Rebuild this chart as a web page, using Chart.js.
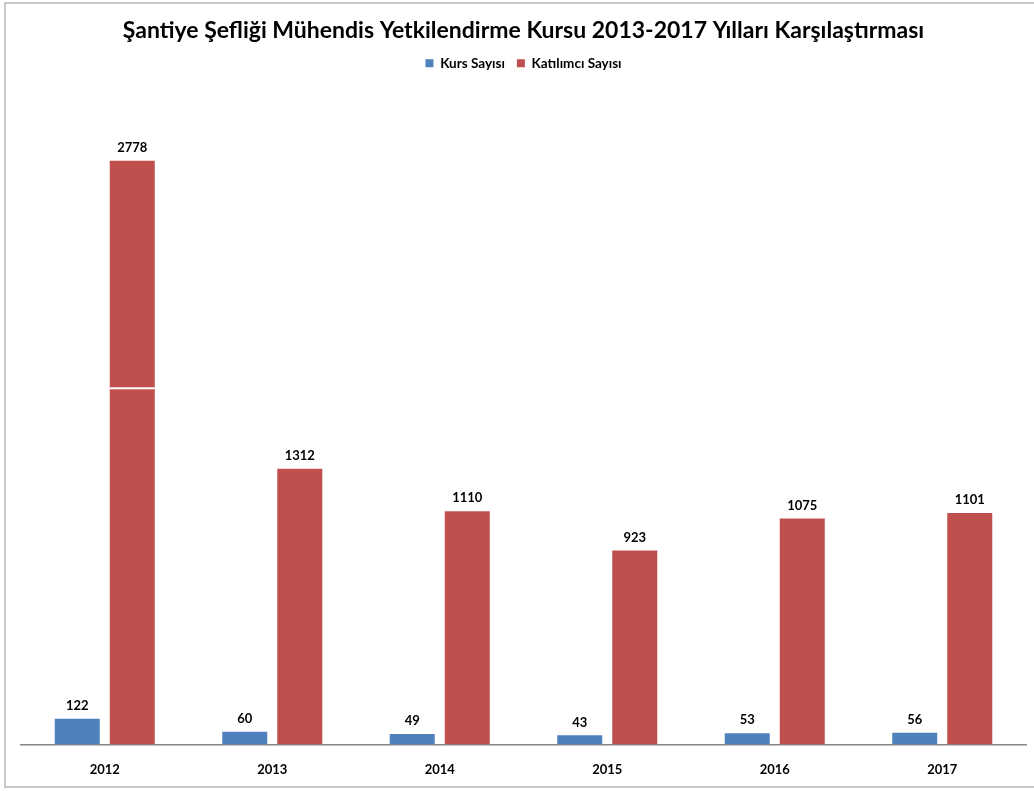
<!DOCTYPE html>
<html>
<head>
<meta charset="utf-8">
<script src="https://cdn.jsdelivr.net/npm/chart.js@4/dist/chart.umd.min.js"></script>
<style>
    html, body { margin: 0; padding: 0; background: #fff; overflow: hidden; }
    #frame {
        position: absolute; left: 4px; top: 2px; width: 1040px; height: 786px;
        border: 2px solid #c8c8c8; border-right: none; box-sizing: border-box;
    }
    #wrap { position: absolute; left: 0; top: 0; width: 1034px; height: 806px; }
</style>
</head>
<body>
<div id="frame"></div>
<div id="wrap"><canvas id="chart"></canvas></div>
<script>
// Data
const years = ['2012', '2013', '2014', '2015', '2016', '2017'];
const kursSayisi = [122, 60, 49, 43, 53, 56];
const katilimciSayisi = [2778, 1312, 1110, 923, 1075, 1101];
const breakValue = 1695; // thin white break seen on the tall 2012 bar

const FONT = 'Lato, "Open Sans", sans-serif';

// Draws the value above every bar
const valueLabels = {
    id: 'valueLabels',
    afterDatasetsDraw(chart) {
        const ctx = chart.ctx;
        ctx.save();
        // white break across the first red bar
        const bar0 = chart.getDatasetMeta(1).data[0];
        const yb = chart.scales.y.getPixelForValue(breakValue);
        ctx.fillStyle = '#fff';
        ctx.fillRect(bar0.x - bar0.width / 2, yb - 1, bar0.width, 2);

        ctx.font = 'bold 13px ' + FONT;
        ctx.fillStyle = '#000';
        ctx.textAlign = 'center';
        ctx.textBaseline = 'middle';
        chart.data.datasets.forEach((ds, i) => {
            chart.getDatasetMeta(i).data.forEach((bar, j) => {
                ctx.fillText(ds.data[j], bar.x, bar.y - 13);
            });
        });
        ctx.restore();
    }
};

// Extra space under the legend
const legendMargin = {
    id: 'legendMargin',
    beforeInit(chart) {
        const fit = chart.legend.fit;
        chart.legend.fit = function() {
            fit.bind(chart.legend)();
            this.height += 34;
        };
    }
};

const ctx = document.getElementById('chart').getContext('2d');
new Chart(ctx, {
    type: 'bar',
    data: {
        labels: years,
        datasets: [
            {
                label: 'Kurs Sayısı',
                data: kursSayisi,
                backgroundColor: '#4F81BD',
                categoryPercentage: 0.657,
                barPercentage: 0.818
            },
            {
                label: 'Katılımcı Sayısı',
                data: katilimciSayisi,
                backgroundColor: '#C0504D',
                categoryPercentage: 0.657,
                barPercentage: 0.818
            }
        ]
    },
    options: {
        responsive: true,
        maintainAspectRatio: false,
        animation: false,
        layout: { padding: { left: 21, right: 8, top: 17, bottom: 10 } },
        plugins: {
            title: {
                display: true,
                text: 'Şantiye Şefliği Mühendis Yetkilendirme Kursu 2013-2017 Yılları Karşılaştırması',
                color: '#000',
                font: { family: FONT, size: 23, weight: 'bold' },
                padding: { top: 0, bottom: 0 }
            },
            legend: {
                display: true,
                labels: {
                    color: '#000',
                    font: { family: FONT, size: 13.5, weight: 'bold' },
                    boxWidth: 8,
                    boxHeight: 8,
                    padding: 12
                }
            },
            tooltip: { enabled: false }
        },
        scales: {
            x: {
                grid: { display: false, drawTicks: false },
                border: { display: true, color: '#868686', width: 1.5 },
                ticks: {
                    color: '#000',
                    font: { family: FONT, size: 13, weight: 'bold' },
                    padding: 18
                }
            },
            y: {
                display: false,
                min: 0,
                max: 3000
            }
        }
    },
    plugins: [valueLabels, legendMargin]
});
</script>
</body>
</html>
